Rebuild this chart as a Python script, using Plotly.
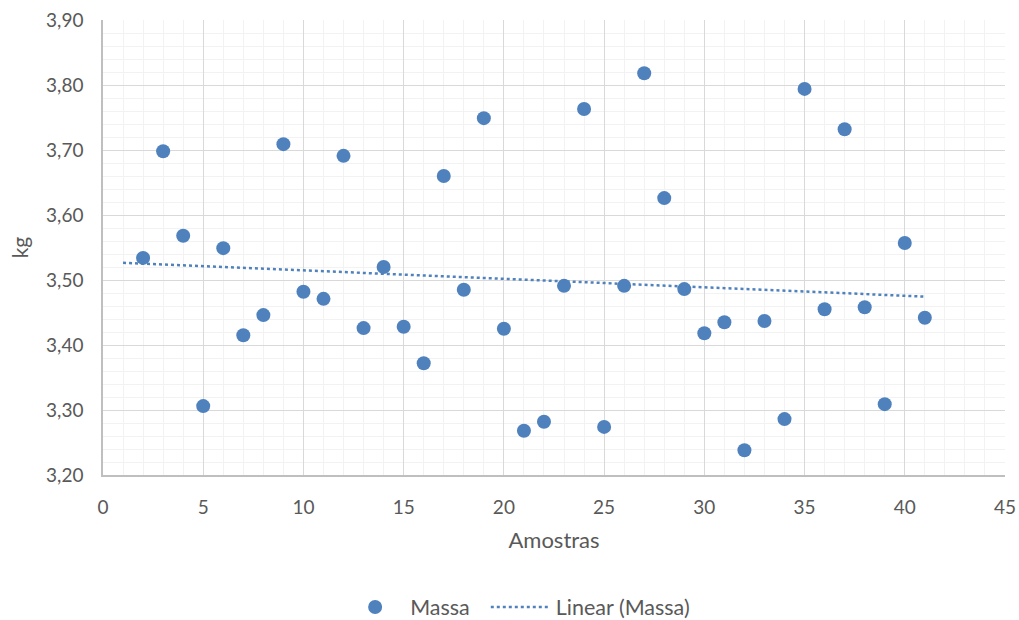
import numpy as np
import plotly.graph_objects as go

amostras = list(range(2, 42))
massa = [3.534, 3.698, 3.568, 3.306, 3.549, 3.415, 3.446, 3.709, 3.482, 3.471,
         3.691, 3.426, 3.520, 3.428, 3.372, 3.660, 3.485, 3.749, 3.425, 3.268,
         3.282, 3.491, 3.763, 3.274, 3.491, 3.818, 3.626, 3.486, 3.418, 3.435,
         3.238, 3.437, 3.286, 3.794, 3.455, 3.732, 3.458, 3.309, 3.557, 3.442]
trend_x = [1, 41]

slope, intercept = np.polyfit(amostras, massa, 1)
trend_y = [slope * x + intercept for x in trend_x]

blue = "#4F81BD"
grey = "#595959"
font_family = "Lato, 'Open Sans', sans-serif"

fig = go.Figure()
fig.add_trace(go.Scatter(x=amostras, y=massa, mode="markers", name="Massa  ",
                         marker=dict(color=blue, size=14)))
fig.add_trace(go.Scatter(x=trend_x, y=trend_y, mode="lines", name="Linear (Massa)",
                         line=dict(color=blue, width=2.5, dash="dot")))

fig.update_layout(
    width=1019, height=620,
    margin=dict(l=103, r=14, t=20, b=145, autoexpand=False),
    paper_bgcolor="white", plot_bgcolor="white",
    separators=",.",
    font=dict(family=font_family, color=grey, size=19),
    showlegend=True,
    legend=dict(orientation="h", x=0.508, xref="container", xanchor="center",
                y=0.021, yref="container", yanchor="middle",
                font=dict(size=21.5, color=grey), itemwidth=60, tracegroupgap=0),
    xaxis=dict(range=[0, 45], dtick=5, tick0=0, showgrid=True, gridcolor="#D9D9D9",
               gridwidth=1, minor=dict(dtick=1, showgrid=True, gridcolor="#F2F2F2", gridwidth=1),
               showline=True, linecolor="#BFBFBF", linewidth=1.5, zeroline=False,
               ticks="", ticklabelstandoff=14,
               title=dict(text="Amostras", font=dict(size=22, color=grey), standoff=16),
               tickfont=dict(size=19, color=grey)),
    yaxis=dict(range=[3.20, 3.90], dtick=0.1, tick0=3.2, tickformat=".2f", showgrid=True,
               gridcolor="#D9D9D9", gridwidth=1,
               minor=dict(dtick=0.02, showgrid=True, gridcolor="#F2F2F2", gridwidth=1),
               showline=True, linecolor="#BFBFBF", linewidth=1.5, zeroline=False,
               ticks="", ticklabelstandoff=14,
               title=dict(text="kg", font=dict(size=21, color=grey), standoff=12),
               tickfont=dict(size=19, color=grey)),
)

fig.write_html("out.html")
